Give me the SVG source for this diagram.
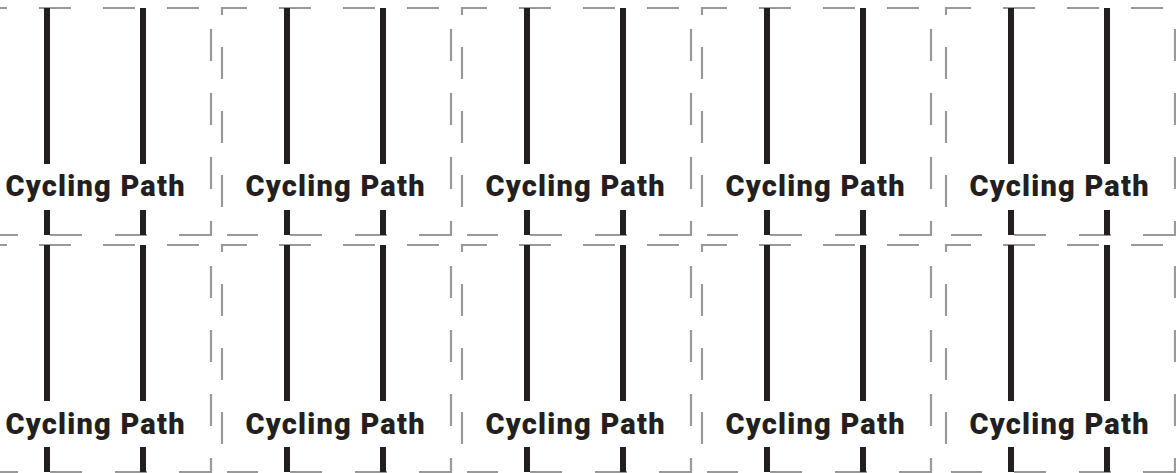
<svg xmlns="http://www.w3.org/2000/svg" xmlns:xlink="http://www.w3.org/1999/xlink" width="1176" height="473" viewBox="0 0 1176 473">
<style>
.frame{fill:none;stroke:#999999;stroke-width:2.2;stroke-linejoin:miter;stroke-linecap:butt}
.bars{fill:none;stroke:#231f20;stroke-width:6;stroke-linecap:butt}
.lbl{font-family:Roboto,"Liberation Sans",sans-serif;font-weight:900;font-size:29px;fill:#231f20;text-anchor:middle}
</style>
<defs>
<path id="frame" class="frame" d="M-18 15V8H7M39 8H71M103 8H135M167 8H199M211 29V61M211 93V125M211 157V189M211 221V235H179M147 235H115M82 235H50M18 235H-13M-18 207V175M-18 143V111M-18 79V47"/>
<path id="bars" class="bars" d="M47 8V164M143 8V164M47 210V235M143 210V235"/>
</defs>
<rect width="1176" height="473" fill="#ffffff"/>
<g id="tile-r1-c1" transform="translate(0,0)"><use xlink:href="#frame"/><use xlink:href="#bars"/><text class="lbl" x="95" y="195.5" textLength="179">Cycling Path</text></g>
<g id="tile-r1-c2" transform="translate(240,0)"><use xlink:href="#frame"/><use xlink:href="#bars"/><text class="lbl" x="95" y="195.5" textLength="179">Cycling Path</text></g>
<g id="tile-r1-c3" transform="translate(480,0)"><use xlink:href="#frame"/><use xlink:href="#bars"/><text class="lbl" x="95" y="195.5" textLength="179">Cycling Path</text></g>
<g id="tile-r1-c4" transform="translate(720,0)"><use xlink:href="#frame"/><use xlink:href="#bars"/><text class="lbl" x="95" y="195.5" textLength="179">Cycling Path</text></g>
<g id="tile-r1-c5" transform="translate(964,0)"><use xlink:href="#frame"/><use xlink:href="#bars"/><text class="lbl" x="95" y="195.5" textLength="179">Cycling Path</text></g>
<g id="tile-r2-c1" transform="translate(0,237)"><use xlink:href="#frame"/><use xlink:href="#bars"/><text class="lbl" x="95" y="196.5" textLength="179">Cycling Path</text></g>
<g id="tile-r2-c2" transform="translate(240,237)"><use xlink:href="#frame"/><use xlink:href="#bars"/><text class="lbl" x="95" y="196.5" textLength="179">Cycling Path</text></g>
<g id="tile-r2-c3" transform="translate(480,237)"><use xlink:href="#frame"/><use xlink:href="#bars"/><text class="lbl" x="95" y="196.5" textLength="179">Cycling Path</text></g>
<g id="tile-r2-c4" transform="translate(720,237)"><use xlink:href="#frame"/><use xlink:href="#bars"/><text class="lbl" x="95" y="196.5" textLength="179">Cycling Path</text></g>
<g id="tile-r2-c5" transform="translate(964,237)"><use xlink:href="#frame"/><use xlink:href="#bars"/><text class="lbl" x="95" y="196.5" textLength="179">Cycling Path</text></g>
</svg>
